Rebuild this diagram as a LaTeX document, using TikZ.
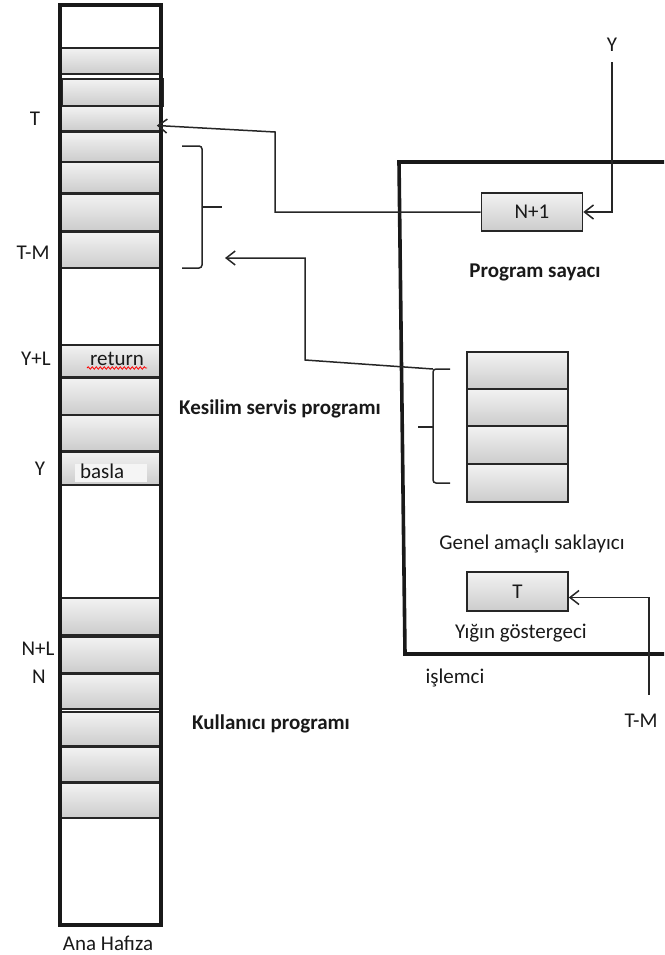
\documentclass[tikz,border=0pt]{standalone}
\usepackage{fontspec}
\setmainfont{Carlito}
\usetikzlibrary{arrows.meta, positioning, decorations.pathmorphing}

\begin{document}
\begin{tikzpicture}[
  x=1pt, y=-1pt,
  >={Straight Barb[length=9pt,width=14pt]},
  cell/.style={draw=black!85, line width=1.6pt, top color=gray!10, bottom color=gray!40, minimum width=101pt, inner sep=0pt},
  reg/.style={cell, minimum height=38pt, font=\fontsize{21}{24}\selectfont, text=black!90},
  lbl/.style={font=\fontsize{21}{24}\selectfont, text=black!90, inner sep=0pt, text height=14pt, text depth=4pt},
  boldlbl/.style={lbl, font=\fontsize{21}{24}\selectfont\bfseries},
  link/.style={->, line width=1.5pt, black!85},
  wire/.style={line width=1.5pt, black!85},
  frame/.style={line width=3.6pt, black!90}
]
\useasboundingbox (0,0) rectangle (664,955);

% Ana hafiza cells
\node[cell, minimum height=26pt] (c1)  at (110.5,61)   {};
\node[cell, minimum height=27pt] (c2)  at (113,92.5)   {};
\node[cell, minimum height=25pt] (c3)  at (110.5,118.5) {};
\node[cell, minimum height=30pt] (c4)  at (110.5,147)  {};
\node[cell, minimum height=31pt] (c5)  at (110.5,177.5) {};
\node[cell, minimum height=37pt] (c6)  at (110.5,212.5) {};
\node[cell, minimum height=36pt] (c7)  at (110.5,250)  {};
\node[cell, minimum height=32pt] (c8)  at (110.5,361)  {};
\node[cell, minimum height=37pt] (c9)  at (110.5,396.5) {};
\node[cell, minimum height=36pt] (c10) at (110.5,433)  {};
\node[cell, minimum height=33pt] (c11) at (110.5,468.5) {};
\node[cell, minimum height=37pt] (u1)  at (110.5,616.5) {};
\node[cell, minimum height=36pt] (u2)  at (110.5,655)  {};
\node[cell, minimum height=35pt] (u3)  at (110.5,691.5) {};
\node[cell, minimum height=34pt] (u4)  at (110.5,729)  {};
\node[cell, minimum height=35pt] (u5)  at (110.5,764.5) {};
\node[cell, minimum height=35pt] (u6)  at (110.5,800.5) {};
\draw[frame] (60,5) rectangle (161,925);

% cell texts
\node[lbl] (ret) at (117,360) {return};
\draw[red, line width=0.8pt, decorate, decoration={snake, segment length=4pt, amplitude=1.2pt}] (87,368) -- (147,368);
\node[lbl, fill=gray!8, minimum width=72pt, text width=62pt, align=left, inner sep=0pt] (basla) at (111,473) {basla};

% address labels
\node[lbl] (lT)  at (35,120)  {T};
\node[lbl] (lTM) at (33,254)  {T-M};
\node[lbl] (lYL) at (36,360)  {Y+L};
\node[lbl] (lY)  at (40,470)  {Y};
\node[lbl] (lNL) at (38,650)  {N+L};
\node[lbl] (lN)  at (39,678)  {N};
\node[lbl] (ana) at (108,945) {Ana Hafıza};

\node[boldlbl] (ksp) at (280,409) {Kesilim servis programı};
\node[boldlbl] (kp)  at (271,724) {Kullanıcı programı};

% islemci
\draw[frame, line join=miter] (664,162) -- (399,162) -- (405,654) -- (664,654);
\node[reg] (pc) at (532,212) {N+1};
\node[boldlbl] (pcl) at (535,272) {Program sayacı};
\node[reg, minimum height=37pt] (g1) at (517.5,370.5) {};
\node[reg, minimum height=37pt] (g2) at (517.5,407.5) {};
\node[reg, minimum height=38pt] (g3) at (517.5,445)   {};
\node[reg, minimum height=38pt] (g4) at (517.5,483)   {};
\node[lbl] (gl) at (532,544) {Genel amaçlı saklayıcı};
\node[reg, minimum height=39pt] (sp) at (517.5,591.5) {T};
\node[lbl] (spl) at (521,633) {Yığın göstergeci};
\node[lbl] (isl) at (455,678) {işlemci};

\node[lbl] (yin)  at (612,47)  {Y};
\node[lbl] (tmin) at (641,722) {T-M};

% braces
\draw[wire, rounded corners=3pt] (182,146) -- (202,146) -- (202,268) -- (182,268);
\draw[wire] (202,207) -- (222,207);
\draw[wire, rounded corners=3pt] (450,369) -- (433,369) -- (433,483) -- (450,483);
\draw[wire] (433,427) -- (418,427);
\coordinate (gtop)  at (433,369);
\coordinate (memin) at (225,258);

% Flows
\draw[link] ([yshift=-6pt]yin.south) |- (pc.east);
\draw[link] (pc.west) -| (275,132) -- ([shift={(-5,7)}]c3.east);
\draw[link] (gtop) -- (305,360) -- (305,258) -- (memin);
\draw[link] ([xshift=8pt,yshift=18pt]tmin.north) |- ([yshift=-6pt]sp.east);
\end{tikzpicture}
\end{document}
